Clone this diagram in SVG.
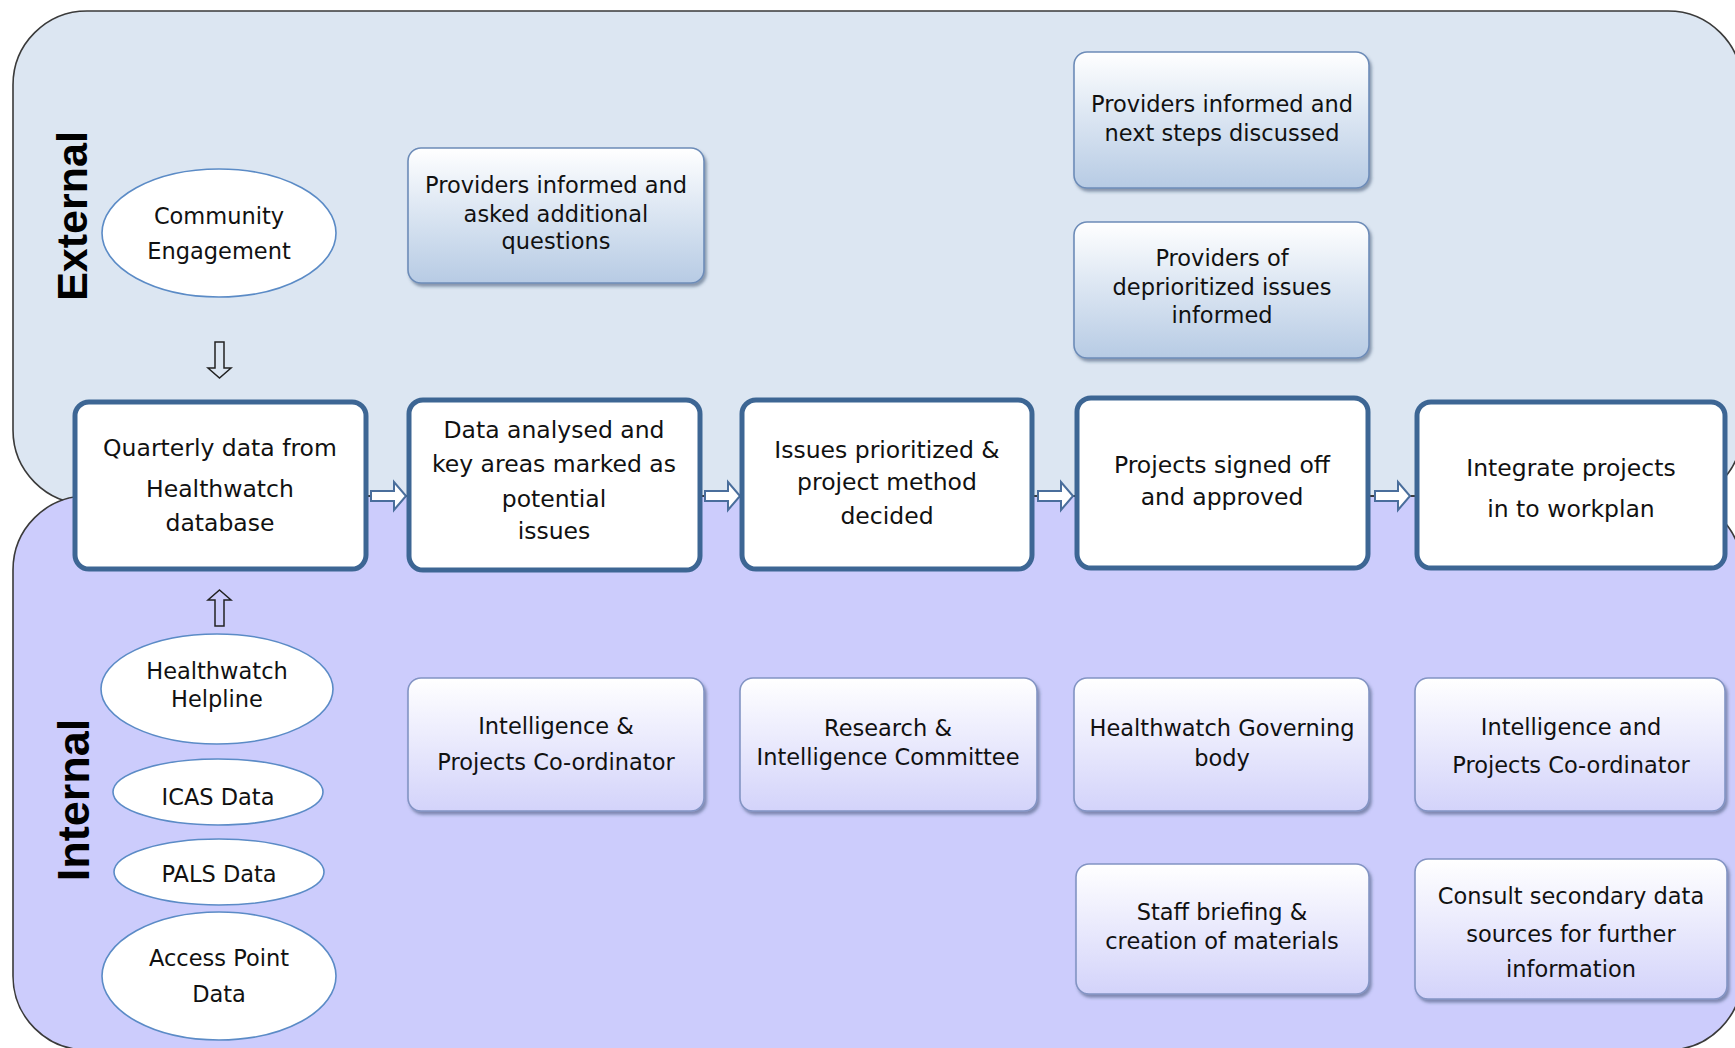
<svg xmlns="http://www.w3.org/2000/svg" width="1735" height="1048" viewBox="0 0 1735 1048">
<defs>
<linearGradient id="gT" x1="0" y1="0" x2="0" y2="1">
<stop offset="0" stop-color="#ffffff"/><stop offset="0.45" stop-color="#dde7f3"/><stop offset="1" stop-color="#b7cbe4"/>
</linearGradient>
<linearGradient id="gB" x1="0" y1="0" x2="0" y2="1">
<stop offset="0" stop-color="#ffffff"/><stop offset="1" stop-color="#d3d3fa"/>
</linearGradient>
<filter id="sh" x="-5%" y="-5%" width="112%" height="120%">
<feDropShadow dx="2" dy="3" stdDeviation="1.5" flood-color="#334466" flood-opacity="0.5"/>
</filter>
<path id="ha" d="M0,-5 H23 V-14 L35,0 L23,14 V5 H0 Z"/>
</defs>
<style>
.panel{stroke:#3a3a3a;stroke-width:1.6}
.main{fill:#ffffff;stroke:#3d6694;stroke-width:5}
.t{font-family:"DejaVu Sans",sans-serif;font-size:22.5px;fill:#111111;text-anchor:middle}
.tm{font-size:23.5px}
.lbl{font-family:"Liberation Sans",Arial,sans-serif;font-weight:bold;font-size:43px;fill:#000000;text-anchor:middle}
.ell{fill:#ffffff;stroke:#5b8bc6;stroke-width:1.6}
.subT{fill:url(#gT);stroke:#6d8cb8;stroke-width:1.6;filter:url(#sh)}
.subB{fill:url(#gB);stroke:#8394c4;stroke-width:1.6;filter:url(#sh)}
.harr{fill:#ffffff;stroke:#4a6e9c;stroke-width:2}
.varr{fill:none;stroke:#222222;stroke-width:1.5}
.cl{stroke:#333333;stroke-width:1.5;fill:none}
</style>

<g id="panels">
<rect id="external-panel" class="panel" x="13" y="11" width="1729" height="493" rx="74" ry="74" fill="#dce6f2"/>
<rect id="internal-panel" class="panel" x="13" y="496" width="1729" height="554" rx="74" ry="74" fill="#ccccfc"/>
<text class="lbl" transform="translate(87,216) rotate(-90)">External</text>
<text class="lbl" style="font-size:45px" transform="translate(89,800) rotate(-90)">Internal</text>
</g>

<g id="connectors">
<line class="cl" x1="366" y1="496" x2="409" y2="496"/>
<line class="cl" x1="700" y1="496" x2="742" y2="496"/>
<line class="cl" x1="1032" y1="496" x2="1077" y2="496"/>
<line class="cl" x1="1368" y1="496" x2="1417" y2="496"/>
<use href="#ha" class="harr" transform="translate(371,496)"/>
<use href="#ha" class="harr" transform="translate(705,496)"/>
<use href="#ha" class="harr" transform="translate(1038,496)"/>
<use href="#ha" class="harr" transform="translate(1375,496)"/>
<path class="varr" d="M215,342 H224 V368 H231 L219.5,378 L208,368 H215 Z"/>
<path class="varr" d="M219.5,590 L231,600 H224 V626 H215 V600 H208 Z"/>
</g>

<g id="community">
<ellipse class="ell" cx="219" cy="233" rx="117" ry="64"/>
<text class="t"><tspan x="219" y="224">Community</tspan><tspan x="219" y="259">Engagement</tspan></text>
</g>

<g id="providers-asked">
<rect class="subT" x="408" y="148" width="296" height="135" rx="13"/>
<text class="t"><tspan x="556" y="193">Providers informed and</tspan><tspan x="556" y="222">asked additional</tspan><tspan x="556" y="249">questions</tspan></text>
</g>

<g id="providers-next">
<rect class="subT" x="1074" y="52" width="295" height="136" rx="13"/>
<text class="t"><tspan x="1222" y="112">Providers informed and</tspan><tspan x="1222" y="141">next steps discussed</tspan></text>
</g>

<g id="providers-deprioritized">
<rect class="subT" x="1074" y="222" width="295" height="136" rx="13"/>
<text class="t"><tspan x="1222" y="266">Providers of</tspan><tspan x="1222" y="295">deprioritized issues</tspan><tspan x="1222" y="323">informed</tspan></text>
</g>

<g id="quarterly">
<rect class="main" x="75" y="402" width="291" height="167" rx="14"/>
<text class="t tm"><tspan x="220" y="456">Quarterly data from</tspan><tspan x="220" y="497">Healthwatch</tspan><tspan x="220" y="531">database</tspan></text>
</g>

<g id="data-analysed">
<rect class="main" x="409" y="400" width="291" height="170" rx="14"/>
<text class="t tm"><tspan x="554" y="438">Data analysed and</tspan><tspan x="554" y="472">key areas marked as</tspan><tspan x="554" y="507">potential</tspan><tspan x="554" y="539">issues</tspan></text>
</g>

<g id="issues-prioritized">
<rect class="main" x="742" y="400" width="290" height="169" rx="14"/>
<text class="t tm"><tspan x="887" y="458">Issues prioritized &amp;</tspan><tspan x="887" y="490">project method</tspan><tspan x="887" y="524">decided</tspan></text>
</g>

<g id="projects-signed">
<rect class="main" x="1077" y="398" width="291" height="170" rx="14"/>
<text class="t tm"><tspan x="1222" y="473">Projects signed off</tspan><tspan x="1222" y="505">and approved</tspan></text>
</g>

<g id="integrate">
<rect class="main" x="1417" y="402" width="308" height="166" rx="14"/>
<text class="t tm"><tspan x="1571" y="476">Integrate projects</tspan><tspan x="1571" y="517">in to workplan</tspan></text>
</g>

<g id="helpline">
<ellipse class="ell" cx="217" cy="689" rx="116" ry="55"/>
<text class="t"><tspan x="217" y="679">Healthwatch</tspan><tspan x="217" y="707">Helpline</tspan></text>
</g>

<g id="icas">
<ellipse class="ell" cx="218" cy="792" rx="105" ry="33"/>
<text class="t" x="218" y="805">ICAS Data</text>
</g>

<g id="pals">
<ellipse class="ell" cx="219" cy="872" rx="105" ry="33"/>
<text class="t" x="219" y="882">PALS Data</text>
</g>

<g id="access-point">
<ellipse class="ell" cx="219" cy="976" rx="117" ry="64"/>
<text class="t"><tspan x="219" y="966">Access Point</tspan><tspan x="219" y="1002">Data</tspan></text>
</g>

<g id="coordinator-1">
<rect class="subB" x="408" y="678" width="296" height="133" rx="13"/>
<text class="t"><tspan x="556" y="734">Intelligence &amp;</tspan><tspan x="556" y="770">Projects Co-ordinator</tspan></text>
</g>

<g id="research-committee">
<rect class="subB" x="740" y="678" width="297" height="133" rx="13"/>
<text class="t"><tspan x="888" y="736">Research &amp;</tspan><tspan x="888" y="765">Intelligence Committee</tspan></text>
</g>

<g id="governing-body">
<rect class="subB" x="1074" y="678" width="295" height="133" rx="13"/>
<text class="t"><tspan x="1222" y="736">Healthwatch Governing</tspan><tspan x="1222" y="766">body</tspan></text>
</g>

<g id="coordinator-2">
<rect class="subB" x="1415" y="678" width="310" height="133" rx="13"/>
<text class="t"><tspan x="1571" y="735">Intelligence and</tspan><tspan x="1571" y="773">Projects Co-ordinator</tspan></text>
</g>

<g id="staff-briefing">
<rect class="subB" x="1076" y="864" width="293" height="130" rx="13"/>
<text class="t"><tspan x="1222" y="920">Staff briefing &amp;</tspan><tspan x="1222" y="949">creation of materials</tspan></text>
</g>

<g id="consult-secondary">
<rect class="subB" x="1415" y="859" width="312" height="140" rx="13"/>
<text class="t"><tspan x="1571" y="904">Consult secondary data</tspan><tspan x="1571" y="942">sources for further</tspan><tspan x="1571" y="977">information</tspan></text>
</g>
</svg>
